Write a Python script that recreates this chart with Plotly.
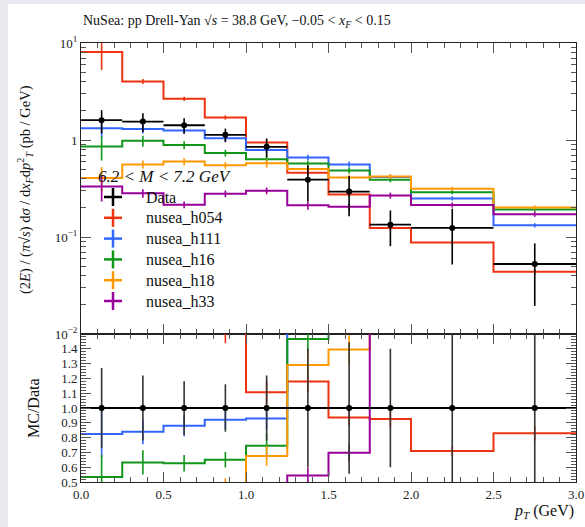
import plotly.graph_objects as go

# ---------------- data ----------------
bin_edges = [0.0, 0.25, 0.5, 0.75, 1.0, 1.25, 1.5, 1.75, 2.0, 2.5, 3.0]

data_vals = [1.60, 1.55, 1.42, 1.13, 0.85, 0.39, 0.294, 0.134, 0.124, 0.0527]
data_relerr = [0.27, 0.22, 0.18, 0.16, 0.22, 0.40, 0.445, 0.40, 0.58, 0.63]

h054_vals = [8.1, 4.02, 2.66, 1.71, 0.94, 0.46, 0.275, 0.124, 0.088, 0.0437]
h054_relerr = [0.35, 0.06, 0.05, 0.05, 0.07, 0.06, 0.06, 0.06, 0.05, 0.06]

h111_vals = [1.32, 1.30, 1.25, 1.04, 0.79, 0.66, 0.56, 0.415, 0.25, 0.132]
h111_relerr = [0.19, 0.10, 0.08, 0.07, 0.08, 0.07, 0.07, 0.06, 0.05, 0.05]

h16_vals = [0.855, 0.98, 0.89, 0.735, 0.633, 0.572, 0.485, 0.39, 0.29, 0.192]
h16_relerr = [0.28, 0.13, 0.09, 0.08, 0.11, 0.07, 0.07, 0.06, 0.05, 0.05]

h18_vals = [0.405, 0.56, 0.60, 0.55, 0.575, 0.503, 0.41, 0.42, 0.314, 0.202]
h18_relerr = [0.30, 0.10, 0.09, 0.08, 0.10, 0.08, 0.07, 0.06, 0.05, 0.05]

h33_vals = [0.332, 0.282, 0.215, 0.28, 0.30, 0.212, 0.205, 0.268, 0.214, 0.172]
h33_relerr = [0.30, 0.10, 0.08, 0.08, 0.08, 0.10, 0.08, 0.07, 0.06, 0.06]

series_names = ["nusea_h054", "nusea_h111", "nusea_h16", "nusea_h18", "nusea_h33"]
series_vals = [h054_vals, h111_vals, h16_vals, h18_vals, h33_vals]
series_errs = [h054_relerr, h111_relerr, h16_relerr, h18_relerr, h33_relerr]
series_colors = ["#EE3311", "#3366FF", "#109618", "#FF9900", "#990099"]

legend_title = "6.2 &lt; M &lt; 7.2 GeV"

# ---------------- helpers ----------------
centers = [(a + b) / 2 for a, b in zip(bin_edges[:-1], bin_edges[1:])]
halfw = [(b - a) / 2 for a, b in zip(bin_edges[:-1], bin_edges[1:])]

SERIF = "Liberation Serif, DejaVu Serif, serif"
fig = go.Figure()

# ---------- MC histograms (main + ratio) ----------
for name, vals, rel, col in zip(series_names, series_vals, series_errs, series_colors):
    step_y = vals + [vals[-1]]
    fig.add_trace(go.Scatter(x=bin_edges, y=step_y, mode="lines", line=dict(color=col, width=2, shape="hv"),
                             xaxis="x", yaxis="y", showlegend=False, hoverinfo="skip", name=name))
    fig.add_trace(go.Scatter(x=centers, y=vals, mode="markers", marker=dict(size=0.1, color=col, opacity=0),
                             error_y=dict(type="data", array=[v * r for v, r in zip(vals, rel)], color=col,
                                          thickness=1.6, width=0),
                             xaxis="x", yaxis="y", showlegend=False, hoverinfo="skip"))
    ratio = [v / d for v, d in zip(vals, data_vals)]
    ratio_err = [v * r / d for v, r, d in zip(vals, rel, data_vals)]
    fig.add_trace(go.Scatter(x=bin_edges, y=ratio + [ratio[-1]], mode="lines",
                             line=dict(color=col, width=2, shape="hv"),
                             xaxis="x2", yaxis="y2", showlegend=False, hoverinfo="skip"))
    fig.add_trace(go.Scatter(x=centers, y=ratio, mode="markers", marker=dict(size=0.1, color=col, opacity=0),
                             error_y=dict(type="data", array=ratio_err, color=col, thickness=1.6, width=0),
                             xaxis="x2", yaxis="y2", showlegend=False, hoverinfo="skip"))

# ---------- Data ----------
fig.add_trace(go.Scatter(x=centers, y=data_vals, mode="markers",
                         marker=dict(size=6, color="black"),
                         error_x=dict(type="data", array=halfw, color="black", thickness=1.8, width=0),
                         error_y=dict(type="data", array=[v * r for v, r in zip(data_vals, data_relerr)],
                                      color="black", thickness=1.6, width=0),
                         xaxis="x", yaxis="y", showlegend=False, hoverinfo="skip"))
ones = [1.0 for _ in data_vals]
fig.add_trace(go.Scatter(x=bin_edges, y=ones + [1.0], mode="lines", line=dict(color="black", width=2, shape="hv"),
                         xaxis="x2", yaxis="y2", showlegend=False, hoverinfo="skip"))
fig.add_trace(go.Scatter(x=centers, y=ones, mode="markers", marker=dict(size=6, color="black"),
                         error_y=dict(type="data", array=data_relerr, color="#333333", thickness=1.6, width=0),
                         xaxis="x2", yaxis="y2", showlegend=False, hoverinfo="skip"))

# ---------------- layout ----------------
ML, MR, MT, MB = 81, 9, 43, 45
W, H = 585, 527
PW, PH = W - ML - MR, H - MT - MB


def px_x(px):
    return (px - ML) / PW


def px_y(py):
    return (H - MB - py) / PH


split = px_y(334)

axis_common = dict(showline=True, linecolor="#222222", linewidth=1, mirror="allticks", ticks="inside",
                   tickcolor="#555555", showgrid=False, zeroline=False, automargin=False,
                   tickfont=dict(family=SERIF, size=13, color="#222222"))

# ---------- manual legend (layout shapes + annotations) ----------
shapes = [dict(type="rect", xref="paper", yref="paper", x0=px_x(8), x1=px_x(590), y0=px_y(532), y1=px_y(4),
               fillcolor="white", line=dict(width=0), layer="below")]
annotations = [
    dict(text=f"<i>{legend_title}</i>", xref="paper", yref="paper", x=px_x(96), y=px_y(176),
         xanchor="left", yanchor="middle", showarrow=False, font=dict(family=SERIF, size=17, color="#111111")),
]
leg_x, leg_y0, leg_dy, arm = 113, 197, 20.8, 9
for i, (name, col) in enumerate(zip(["Data"] + series_names, ["black"] + series_colors)):
    cy = leg_y0 + i * leg_dy
    shapes.append(dict(type="line", xref="paper", yref="paper", x0=px_x(leg_x - arm), x1=px_x(leg_x + arm),
                       y0=px_y(cy), y1=px_y(cy), line=dict(color=col, width=2.5)))
    shapes.append(dict(type="line", xref="paper", yref="paper", x0=px_x(leg_x), x1=px_x(leg_x),
                       y0=px_y(cy - arm), y1=px_y(cy + arm), line=dict(color=col, width=2.5)))
    annotations.append(dict(text=name, xref="paper", yref="paper", x=px_x(144), y=px_y(cy),
                            xanchor="left", yanchor="middle", showarrow=False,
                            font=dict(family=SERIF, size=16, color="#111111")))

annotations += [
    dict(text="NuSea: pp Drell-Yan \u221a<i>s</i> = 38.8 GeV, \u22120.05 &lt; <i>x<sub>F</sub></i> &lt; 0.15",
         xref="paper", yref="paper", x=px_x(81), y=px_y(22), xanchor="left", yanchor="middle",
         showarrow=False, font=dict(family=SERIF, size=14, color="#111111")),
    dict(text="(2<i>E</i>) / (<i>\u03c0</i>\u221a<i>s</i>) d<i>\u03c3</i> / d<i>x<sub>F</sub></i>d<i>p</i><sup>2</sup><sub><i>T</i></sub> (pb / GeV)",
         xref="paper", yref="paper", x=px_x(25), y=px_y(190), xanchor="center", yanchor="middle",
         textangle=-90, showarrow=False, font=dict(family=SERIF, size=14.5, color="#111111")),
    dict(text="MC/Data", xref="paper", yref="paper", x=px_x(33), y=px_y(408), xanchor="center",
         yanchor="middle", textangle=-90, showarrow=False, font=dict(family=SERIF, size=16, color="#111111")),
    dict(text="<i>p<sub>T</sub></i> (GeV)", xref="paper", yref="paper", x=1, y=px_y(511), xanchor="right",
         yanchor="middle", showarrow=False, font=dict(family=SERIF, size=16, color="#111111")),
]

fig.update_layout(
    width=W, height=H,
    margin=dict(l=ML, r=MR, t=MT, b=MB),
    paper_bgcolor="#e9ebf0",
    plot_bgcolor="white",
    showlegend=False,
    font=dict(family=SERIF, color="#111111"),
    xaxis=dict(domain=[0, 1], anchor="y", range=[0, 3], dtick=0.5, tick0=0, ticklen=10, showticklabels=False,
               minor=dict(dtick=0.1, ticklen=5, ticks="inside", tickcolor="#555555"), **axis_common),
    yaxis=dict(domain=[split, 1], anchor="x", type="log", range=[-2, 1],
               tickvals=[0.01, 0.1, 1, 10],
               ticktext=["10<sup>\u22122</sup>", "10<sup>\u22121</sup>", "1", "10<sup>1</sup>"],
               ticklen=10, minor=dict(dtick="D1", ticklen=5, ticks="inside", tickcolor="#555555"),
               **axis_common),
    xaxis2=dict(domain=[0, 1], anchor="y2", range=[0, 3], matches="x",
                tickvals=[0, 0.5, 1.0, 1.5, 2.0, 2.5, 3.0],
                ticktext=["0.0", "0.5", "1.0", "1.5", "2.0", "2.5", "3.0"], ticklen=10,
                minor=dict(dtick=0.1, ticklen=5, ticks="inside", tickcolor="#555555"), **axis_common),
    yaxis2=dict(domain=[0, split], anchor="x2", range=[0.5, 1.5],
                tickvals=[0.5, 0.6, 0.7, 0.8, 0.9, 1.0, 1.1, 1.2, 1.3, 1.4],
                ticktext=["0.5", "0.6", "0.7", "0.8", "0.9", "1.0", "1.1", "1.2", "1.3", "1.4"],
                ticklen=10, minor=dict(dtick=0.02, tick0=0.5, ticklen=5, ticks="inside", tickcolor="#555555"),
                **axis_common),
    shapes=shapes,
    annotations=annotations,
)

fig.write_html("out.html", config={"displayModeBar": False},
               post_script="document.body.style.margin='0px';document.body.style.padding='0px';"
                           "document.body.style.overflow='hidden';")
